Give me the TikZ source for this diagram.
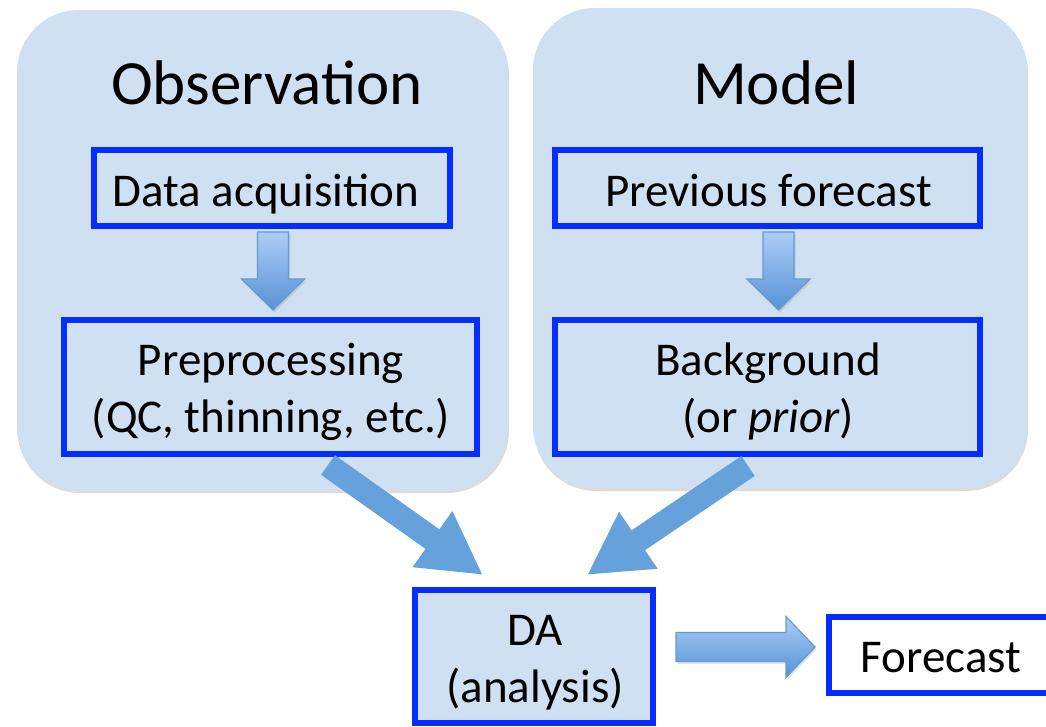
\documentclass[tikz,border=0pt]{standalone}
\usepackage{fontspec}
\setmainfont{Carlito}
\usetikzlibrary{arrows.meta,shadows}
\definecolor{panelblue}{RGB}{207,224,242}
\definecolor{boxblue}{RGB}{5,45,255}
\definecolor{flowblue}{RGB}{101,161,219}
\definecolor{fadetop}{RGB}{172,205,248}
\definecolor{fadebot}{RGB}{86,146,212}
\definecolor{fadeedge}{RGB}{104,152,208}

\begin{document}
\begin{tikzpicture}[x=1pt,y=-1pt,
    panel/.style={fill=panelblue, rounded corners=62pt, inner sep=0pt,
        drop shadow={opacity=0.3, fill=black!45, shadow xshift=1pt, shadow yshift=-3pt}},
    stage/.style={draw=boxblue, line width=6pt, inner sep=0pt},
    title/.style={anchor=base, font=\fontsize{63}{75}\selectfont},
    lbl/.style={anchor=base, align=center, font=\fontsize{47}{57}\selectfont},
    feed/.style={flowblue, line width=24pt, -{Triangle[length=62pt,width=64pt]}},
    push/.style={top color=fadetop, bottom color=fadebot, draw=fadeedge, line width=1.2pt,
        drop shadow={opacity=0.25, fill=black!45, shadow xshift=1.5pt, shadow yshift=-2.5pt}}]
    \useasboundingbox (0,0) rectangle (1046,727);

    \node[panel, minimum width=491pt, minimum height=480pt] (obs) at (262.5,250) {}; % left panel
    \node[panel, minimum width=494pt, minimum height=480pt] (mod) at (780,248) {}; % right panel
    \node[title] at (267,105) {Observation};
    \node[title] at (776,105) {Model};

    \node[stage, minimum width=356pt, minimum height=76pt] (acq) at (272,188) {};
    \node[stage, minimum width=413pt, minimum height=134pt] (prep) at (270.5,387) {};
    \node[stage, minimum width=425pt, minimum height=76pt] (prev) at (767.5,188) {};
    \node[stage, minimum width=425pt, minimum height=134pt] (bg) at (767.5,387) {};
    \node[stage, fill=panelblue, minimum width=238pt, minimum height=133pt] (da) at (534,656.5) {};
    \node[stage, fill=white, minimum width=234pt, minimum height=76pt] (fc) at (946,655) {};

    % base of a two-line label is its last line
    \node[lbl] at (266,207) {Data acquisition};
    \node[lbl] at (271,432) {Preprocessing\\(QC, thinning, etc.)};
    \node[lbl] at (768.5,207) {Previous forecast};
    \node[lbl] at (768,432) {Background\\(or \textit{prior})};
    \node[lbl] at (535,702) {DA\\(analysis)};
    \node[lbl] at (941,672) {Forecast};

    \shade[push] ([xshift=1pt,yshift=-3pt]acq.south) ++(-15.5,0) -- ++(31,0) -- ++(0,47) -- ++(16,0)
        -- ++(-31.5,31) -- ++(-31.5,-31) -- ++(16,0) -- cycle; % down
    \shade[push] ([xshift=11pt,yshift=-3pt]prev.south) ++(-15.5,0) -- ++(31,0) -- ++(0,47) -- ++(16,0)
        -- ++(-31.5,31) -- ++(-31.5,-31) -- ++(16,0) -- cycle; % down
    \draw[feed] ([xshift=57.5pt,yshift=-8pt]prep.south) -- ([xshift=-51pt,yshift=12pt]da.north);
    \draw[feed] ([xshift=-19.5pt,yshift=-9pt]bg.south) -- ([xshift=53pt,yshift=12pt]da.north);
    \shade[push] ([xshift=20pt,yshift=9.5pt]da.east) ++(0,-14.5) -- ++(110,0) -- ++(0,-16) -- ++(29,30.5)
        -- ++(-29,30.5) -- ++(0,-16) -- ++(-110,0) -- cycle; % right
\end{tikzpicture}
\end{document}
